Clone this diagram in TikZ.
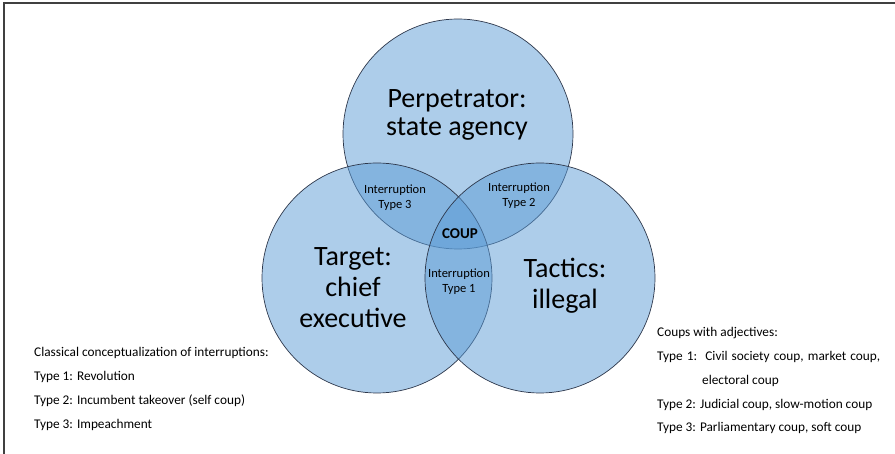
\documentclass[tikz,border=0pt]{standalone}
\usepackage{fontspec}
\setmainfont{Carlito}
\usetikzlibrary{positioning}
\definecolor{vennblue}{RGB}{91,155,213}
\definecolor{vennline}{RGB}{45,55,75}
\definecolor{framegray}{RGB}{64,64,64}

\begin{document}
\begin{tikzpicture}[
        x=1pt, y=-1pt,
        node distance=0pt,
        set/.style={circle, draw=vennline, line width=0.7pt, fill=vennblue, fill opacity=0.5, text opacity=1, minimum size=230pt, inner sep=0pt},
        biglabel/.style={font=\fontsize{28}{31}\selectfont, align=center, inner sep=0pt},
        overlap/.style={font=\fontsize{12.5}{15}\selectfont, align=center, inner sep=0pt},
        legend/.style={font=\fontsize{13.3}{15}\selectfont, anchor=base west, inner sep=0pt}
    ]
    \useasboundingbox (0,0) rectangle (895,454);

    % Frame
    \draw[framegray, line width=2pt] (3.5,454) -- (3.5,3.5) -- (895,3.5);

    % Sets
    \node[set] (perp) at (458,134) {};
    \node[set] (target) at (377,278) {};
    \node[set] (tactics) at (540,278) {};

    % Set labels
    \node[biglabel, font=\fontsize{28}{28}\selectfont] (perplabel) at (457,114.5) {Perpetrator:\\state agency};
    \node[biglabel] (targetlabel) at (353,288) {Target:\\chief\\executive};
    \node[biglabel] (tacticslabel) at (565,286) {Tactics:\\illegal};

    % Overlaps
    \node[overlap] (type3) at (395,198) {Interruption\\Type 3};
    \node[overlap] (type2) at (519,196) {Interruption\\Type 2};
    \node[overlap] (type1) at (459,282) {Interruption\\Type 1};
    \node[overlap, font=\fontsize{15}{16}\selectfont\bfseries] (coup) at (460,234) {COUP};

    % Legend left
    \node[legend] (classic) at (34,357) {Classical conceptualization of interruptions:};
    \node[legend, below=23.7pt of classic.base west, anchor=base west] (classic1) {Type 1: Revolution};
    \node[legend, below=23.7pt of classic1.base west, anchor=base west] (classic2) {Type 2: Incumbent takeover (self coup)};
    \node[legend, below=23.7pt of classic2.base west, anchor=base west] (classic3) {Type 3: Impeachment};

    % Legend right
    \node[legend] (adj) at (657,337) {Coups with adjectives:};
    \node[legend, below=23.7pt of adj.base west, anchor=base west] (adj1) {\makebox[223pt][s]{Type 1:\ \ Civil society coup, market coup,}};
    \node[legend, below=23.7pt of adj1.base west, anchor=base west, xshift=45pt] (adj1b) {electoral coup};
    \node[legend, below=23.7pt of adj1b.base west, anchor=base west, xshift=-45pt] (adj2) {Type 2: Judicial coup, slow-motion coup};
    \node[legend, below=23.7pt of adj2.base west, anchor=base west] (adj3) {Type 3: Parliamentary coup, soft coup};

\end{tikzpicture}
\end{document}
